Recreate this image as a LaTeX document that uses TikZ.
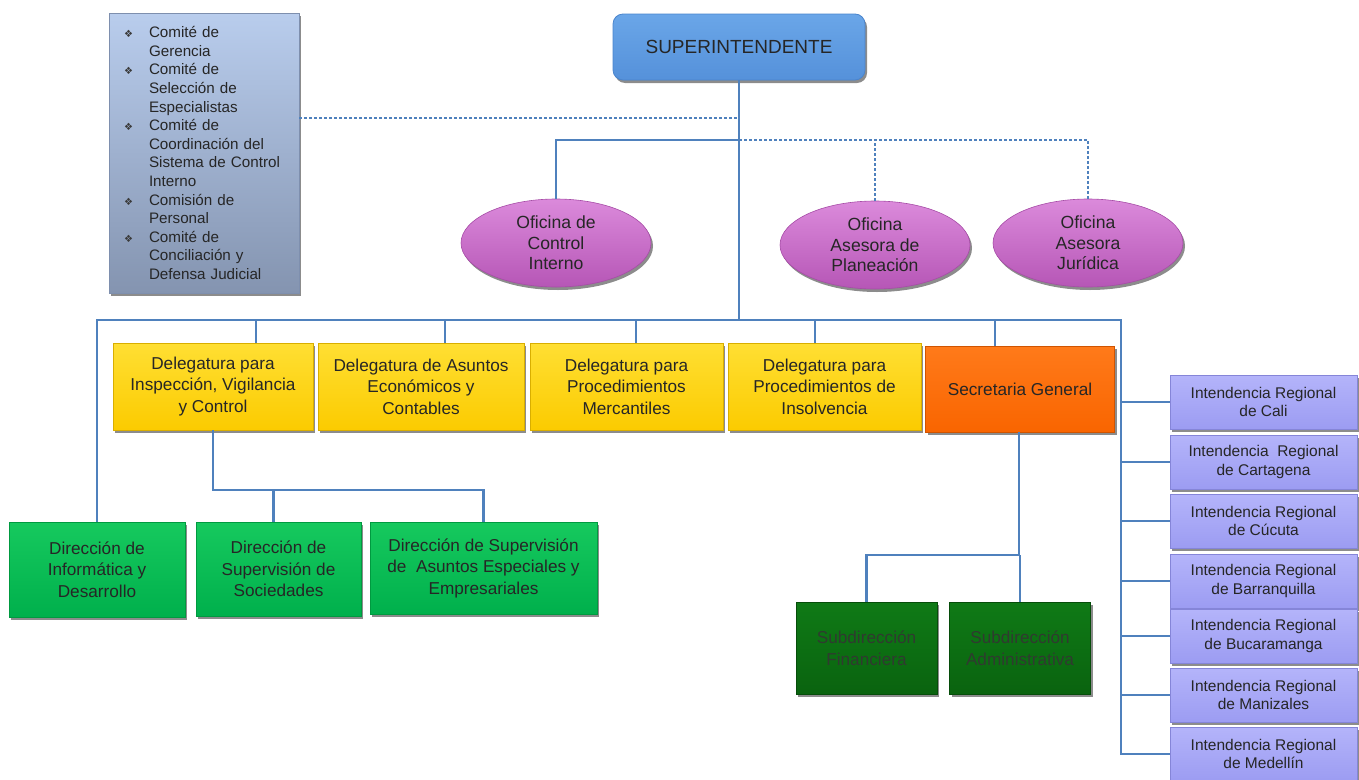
\documentclass[tikz,border=0pt]{standalone}
\usepackage{fontspec}
\setmainfont{Liberation Sans}
\newfontfamily\dejavu{DejaVu Sans}
\usetikzlibrary{shapes.geometric,shadows,calc}
\definecolor{linec}{HTML}{4F81BD}
\definecolor{txt}{HTML}{262626}
\definecolor{comT}{HTML}{B9CDED}\definecolor{comB}{HTML}{8494B0}\definecolor{comD}{HTML}{7E8FAE}
\definecolor{supT}{HTML}{6AA6E8}\definecolor{supB}{HTML}{5591DA}\definecolor{supD}{HTML}{4A84CC}
\definecolor{ovT}{HTML}{DB8ADB}\definecolor{ovB}{HTML}{B656B6}\definecolor{ovD}{HTML}{A64CA6}
\definecolor{yT}{HTML}{FFDF33}\definecolor{yB}{HTML}{FBCB00}\definecolor{yD}{HTML}{D9AE00}
\definecolor{oT}{HTML}{FF7A1A}\definecolor{oB}{HTML}{F96500}\definecolor{oD}{HTML}{D05400}
\definecolor{iT}{HTML}{B4B4FA}\definecolor{iB}{HTML}{9C9CF2}\definecolor{iD}{HTML}{8585D8}
\definecolor{gT}{HTML}{16C95E}\definecolor{gB}{HTML}{00B04C}\definecolor{gD}{HTML}{009A40}
\definecolor{dgT}{HTML}{0F7A16}\definecolor{dgB}{HTML}{0A630F}\definecolor{dgD}{HTML}{064D0A}\definecolor{dgtxt}{HTML}{303A30}
\definecolor{bulc}{HTML}{3A3A3A}
\newcommand\bul{\makebox[26pt][l]{\hspace*{1pt}\dejavu\fontsize{10}{10}\selectfont\color{bulc}❖}}
\newcommand\cont{\hspace*{26pt}}
\tikzset{
  conn/.style={draw=linec, line width=2.7pt},
  dconn/.style={draw=linec, line width=1.4pt, dash pattern=on 3pt off 2pt},
  shad/.style={drop shadow={shadow xshift=2pt, shadow yshift=-3pt, opacity=0.45, fill=black}},
  basebox/.style={rectangle, shad, inner sep=2pt, align=center, text=txt, font=\fontsize{17.2}{21.5}\selectfont},
  combox/.style={basebox, top color=comT, bottom color=comB, draw=comD, line width=0.6pt,
     minimum width=190pt, minimum height=280pt, text width=162pt, inner xsep=14pt, align=left, font=\fontsize{15.2}{18.6}\selectfont},
  supbox/.style={basebox, rounded corners=10pt, top color=supT, bottom color=supB, draw=supD, line width=0.8pt,
     minimum width=252pt, minimum height=66pt, font=\fontsize{19}{21}\selectfont},
  oval/.style={ellipse, shad, top color=ovT, bottom color=ovB, draw=ovD, line width=0.6pt,
     minimum width=190pt, minimum height=88pt, inner sep=0pt, align=center, text=txt, font=\fontsize{17.6}{20.6}\selectfont},
  ybox/.style={basebox, top color=yT, bottom color=yB, draw=yD, line width=0.6pt, minimum height=87pt},
  obox/.style={basebox, top color=oT, bottom color=oB, draw=oD, line width=0.6pt, minimum height=86pt},
  ibox/.style={basebox, top color=iT, bottom color=iB, draw=iD, line width=0.6pt,
     minimum width=187pt, minimum height=54pt, font=\fontsize{15.5}{18.5}\selectfont},
  gbox/.style={basebox, top color=gT, bottom color=gB, draw=gD, line width=0.6pt},
  dgbox/.style={basebox, top color=dgT, bottom color=dgB, draw=dgD, line width=0.6pt,
     minimum width=141pt, minimum height=92pt, text=dgtxt},
}
\begin{document}
\begin{tikzpicture}[x=1pt,y=-1pt]
\useasboundingbox (0,0) rectangle (1359,779);

% committee box
\node[combox] (com) at (204,153) {\bul Comité de\\ \cont Gerencia\\ \bul Comité de\\ \cont Selección de\\ \cont Especialistas\\
 \bul Comité de\\ \cont Coordinación del\\ \cont Sistema de Control\\ \cont Interno\\ \bul Comisión de\\ \cont Personal\\
 \bul Comité de\\ \cont Conciliación y\\ \cont Defensa Judicial};

\node[supbox] (sup) at (739,47) {SUPERINTENDENTE};

\node[oval] (oci) at (556,243) {Oficina de\\Control\\Interno};
\node[oval] (oap) at (875,245) {Oficina\\Asesora de\\Planeación};
\node[oval] (ojur) at (1088,243) {Oficina\\Asesora\\Jurídica};

\node[ybox, minimum width=200pt] (d1) at (213,386.5) {Delegatura para\\Inspección, Vigilancia\\y Control};
\node[ybox, minimum width=206pt] (d2) at (421,386.5) {Delegatura de Asuntos\\Económicos y\\Contables};
\node[ybox, minimum width=193pt] (d3) at (626.5,386.5) {Delegatura para\\Procedimientos\\Mercantiles};
\node[ybox, minimum width=193pt] (d4) at (824.5,386.5) {Delegatura para\\Procedimientos de\\Insolvencia};
\node[obox, minimum width=189pt] (sg) at (1020,389) {Secretaria General};

\node[ibox] (i1) at (1263.5,402) {Intendencia Regional\\de Cali};
\node[ibox] (i2) at (1263.5,462) {Intendencia~ Regional\\de Cartagena};
\node[ibox] (i3) at (1263.5,521) {Intendencia Regional\\de Cúcuta};
\node[ibox] (i4) at (1263.5,581) {Intendencia Regional\\de Barranquilla};
\node[ibox] (i5) at (1263.5,636) {Intendencia Regional\\de Bucaramanga};
\node[ibox] (i6) at (1263.5,695) {Intendencia Regional\\de Manizales};
\node[ibox] (i7) at (1263.5,754) {Intendencia Regional\\de Medellín};

\node[gbox, minimum width=176pt, minimum height=95pt] (dinf) at (97,569.5) {Dirección de\\Informática y\\Desarrollo};
\node[gbox, minimum width=165pt, minimum height=94pt] (dsoc) at (278.5,569) {Dirección de\\Supervisión de\\Sociedades};
\node[gbox, minimum width=227pt, minimum height=92pt] (desp) at (483.5,568) {Dirección de Supervisión\\de~ Asuntos Especiales y\\Empresariales};

\node[dgbox] (sfin) at (866.5,648) {Subdirección\\Financiera};
\node[dgbox] (sadm) at (1020,648) {Subdirección\\Administrativa};

% junction coordinates
\coordinate (j0) at (739,118);
\coordinate (j1) at (739,140);
\coordinate (bus) at (739,320);
\coordinate (br) at (1121,320);
\coordinate (k1) at (213,490);
\coordinate (k2) at (1019,555);

% connectors
\draw[dconn] (com.east |- j0) -- (j0);
\draw[dconn] (j1) -| (ojur.north);
\draw[dconn] (oap.north) -- (oap.north |- j1);
\draw[conn] (sup.south) -- (bus);
\draw[conn] (oci.north) |- (j1);
\draw[conn] (dinf.north) |- (br) |- (i7.west);
\draw[conn] ([xshift=43pt]d1.north) -- ([xshift=43pt]d1.north |- bus);
\draw[conn] ([xshift=24pt]d2.north) -- ([xshift=24pt]d2.north |- bus);
\draw[conn] ([xshift=9.5pt]d3.north) -- ([xshift=9.5pt]d3.north |- bus);
\draw[conn] ([xshift=-9.5pt]d4.north) -- ([xshift=-9.5pt]d4.north |- bus);
\draw[conn] ([xshift=-25pt]sg.north) -- ([xshift=-25pt]sg.north |- bus);
\foreach \n in {i1,i2,i3,i4,i5,i6}{
  \draw[conn] (br |- \n.west) -- (\n.west);
}
\draw[conn] (d1.south) -- (k1) -| (desp.north);
\draw[conn] ([xshift=-5pt]dsoc.north) -- ([xshift=-5pt]dsoc.north |- k1);
\draw[conn] ([xshift=-1pt]sg.south) -- (k2) -| (sfin.north);
\draw[conn] (sadm.north) -- (sadm.north |- k2);
\end{tikzpicture}
\end{document}
